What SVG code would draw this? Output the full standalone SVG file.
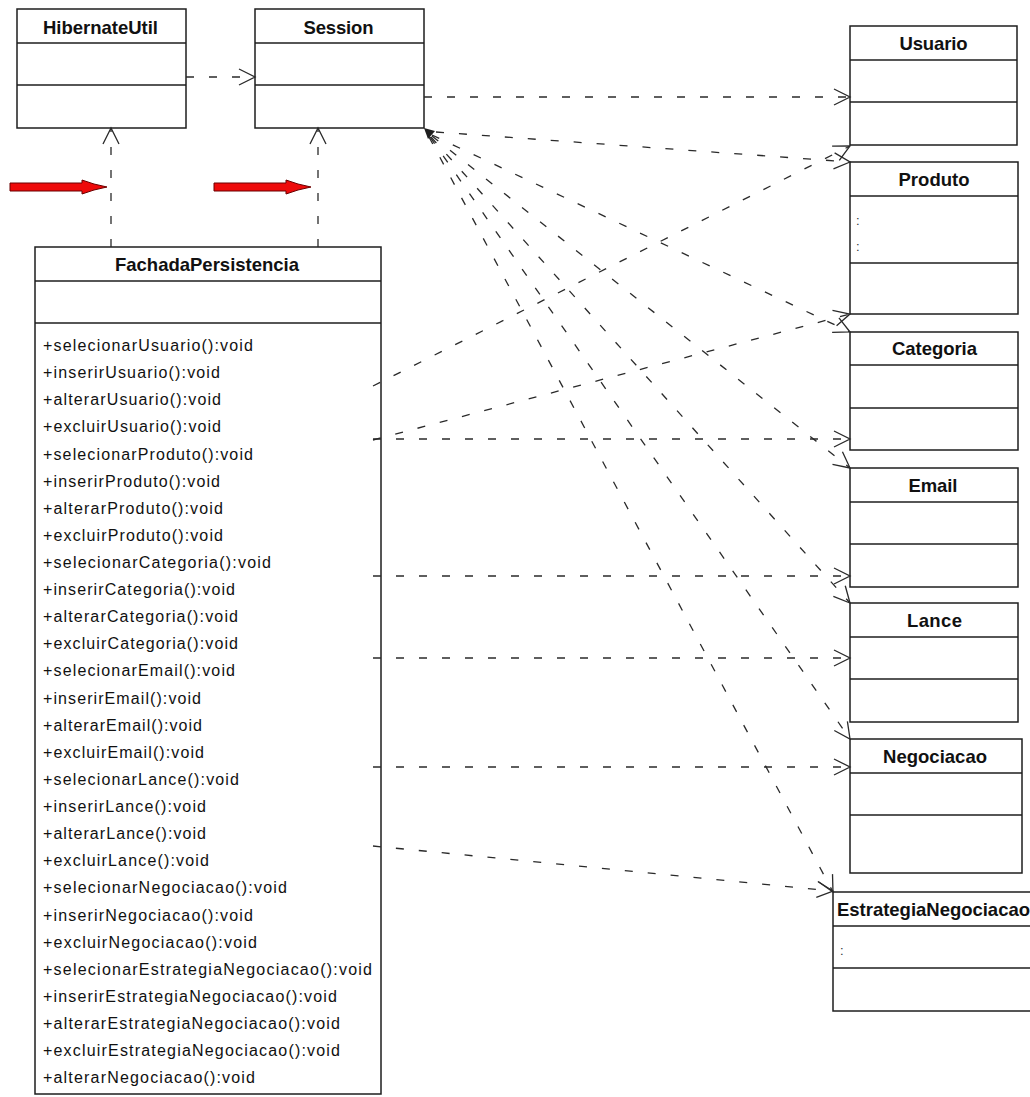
<svg xmlns="http://www.w3.org/2000/svg" width="1030" height="1097" viewBox="0 0 1030 1097">
  <style>
    .box { fill: #ffffff; stroke: #1e1e1e; stroke-width: 1.5; }
    .div { stroke: #1e1e1e; stroke-width: 1.5; }
    .title { font-family: "Liberation Sans", Arial, sans-serif; font-weight: bold; font-size: 18.5px; fill: #111; text-anchor: middle; }
    .op { font-family: "Liberation Sans", Arial, sans-serif; font-size: 16px; fill: #111; }
    .dots { font-family: "Liberation Sans", Arial, sans-serif; font-size: 13px; fill: #333; }
    .dep { fill: none; stroke: #2a2a2a; stroke-width: 1.3; stroke-dasharray: 8 15; marker-end: url(#open); }
    .hint { fill: #ee0a0a; stroke: #6a0000; stroke-width: 1; }
  </style>
  <defs>
    <marker id="open" markerUnits="userSpaceOnUse" markerWidth="22" markerHeight="22" viewBox="-19 -11 22 22" refX="0" refY="0" orient="auto">
      <path d="M-16,-8 L0,0 L-16,8" fill="none" stroke="#2a2a2a" stroke-width="1.3" stroke-dasharray="none"/>
    </marker>
  </defs>

  <rect width="1030" height="1097" fill="#ffffff"/>

  <!-- classes -->
  <g id="HibernateUtil">
    <rect class="box" x="17" y="9" width="169" height="119"/>
    <line class="div" x1="17" y1="43" x2="186" y2="43"/>
    <line class="div" x1="17" y1="85" x2="186" y2="85"/>
    <text class="title" x="100.5" y="34" textLength="115">HibernateUtil</text>
  </g>

  <g id="Session">
    <rect class="box" x="255" y="9" width="169" height="119"/>
    <line class="div" x1="255" y1="43" x2="424" y2="43"/>
    <line class="div" x1="255" y1="85" x2="424" y2="85"/>
    <text class="title" x="338.5" y="34" textLength="70">Session</text>
  </g>

  <g id="FachadaPersistencia">
    <rect class="box" x="35" y="247" width="346" height="847"/>
    <line class="div" x1="35" y1="281" x2="381" y2="281"/>
    <line class="div" x1="35" y1="323" x2="381" y2="323"/>
    <text class="title" x="207" y="271" textLength="184">FachadaPersistencia</text>
    <text class="op" x="43" y="351" textLength="210">+selecionarUsuario():void</text>
    <text class="op" x="43" y="378.1" textLength="177">+inserirUsuario():void</text>
    <text class="op" x="43" y="405.2" textLength="178">+alterarUsuario():void</text>
    <text class="op" x="43" y="432.4" textLength="178">+excluirUsuario():void</text>
    <text class="op" x="43" y="459.5" textLength="210">+selecionarProduto():void</text>
    <text class="op" x="43" y="486.6" textLength="177">+inserirProduto():void</text>
    <text class="op" x="43" y="513.7" textLength="180">+alterarProduto():void</text>
    <text class="op" x="43" y="540.8" textLength="180">+excluirProduto():void</text>
    <text class="op" x="43" y="568" textLength="228">+selecionarCategoria():void</text>
    <text class="op" x="43" y="595.1" textLength="192">+inserirCategoria():void</text>
    <text class="op" x="43" y="622.2" textLength="195">+alterarCategoria():void</text>
    <text class="op" x="43" y="649.3" textLength="195">+excluirCategoria():void</text>
    <text class="op" x="43" y="676.4" textLength="192">+selecionarEmail():void</text>
    <text class="op" x="43" y="703.6" textLength="158">+inserirEmail():void</text>
    <text class="op" x="43" y="730.7" textLength="159">+alterarEmail():void</text>
    <text class="op" x="43" y="757.8" textLength="161">+excluirEmail():void</text>
    <text class="op" x="43" y="784.9" textLength="196">+selecionarLance():void</text>
    <text class="op" x="43" y="812" textLength="163">+inserirLance():void</text>
    <text class="op" x="43" y="839.2" textLength="163">+alterarLance():void</text>
    <text class="op" x="43" y="866.3" textLength="166">+excluirLance():void</text>
    <text class="op" x="43" y="893.4" textLength="244">+selecionarNegociacao():void</text>
    <text class="op" x="43" y="920.5" textLength="210">+inserirNegociacao():void</text>
    <text class="op" x="43" y="947.6" textLength="214">+excluirNegociacao():void</text>
    <text class="op" x="43" y="974.8" textLength="329">+selecionarEstrategiaNegociacao():void</text>
    <text class="op" x="43" y="1001.9" textLength="294">+inserirEstrategiaNegociacao():void</text>
    <text class="op" x="43" y="1029" textLength="297">+alterarEstrategiaNegociacao():void</text>
    <text class="op" x="43" y="1056.1" textLength="297">+excluirEstrategiaNegociacao():void</text>
    <text class="op" x="43" y="1083.2" textLength="212">+alterarNegociacao():void</text>
  </g>

  <g id="Usuario">
    <rect class="box" x="850" y="26" width="167" height="119"/>
    <line class="div" x1="850" y1="60" x2="1017" y2="60"/>
    <line class="div" x1="850" y1="102" x2="1017" y2="102"/>
    <text class="title" x="933.5" y="49.5" textLength="68">Usuario</text>
  </g>

  <g id="Produto">
    <rect class="box" x="850" y="162" width="168" height="152"/>
    <line class="div" x1="850" y1="196" x2="1018" y2="196"/>
    <line class="div" x1="850" y1="263" x2="1018" y2="263"/>
    <text class="title" x="934" y="185.5" textLength="71">Produto</text>
    <text class="dots" x="856" y="225">:</text>
    <text class="dots" x="856" y="251">:</text>
  </g>

  <g id="Categoria">
    <rect class="box" x="850" y="332" width="168" height="118"/>
    <line class="div" x1="850" y1="365" x2="1018" y2="365"/>
    <line class="div" x1="850" y1="408" x2="1018" y2="408"/>
    <text class="title" x="934.5" y="355" textLength="85">Categoria</text>
  </g>

  <g id="Email">
    <rect class="box" x="850" y="468" width="168" height="119"/>
    <line class="div" x1="850" y1="502" x2="1018" y2="502"/>
    <line class="div" x1="850" y1="544" x2="1018" y2="544"/>
    <text class="title" x="933" y="491.5" textLength="49">Email</text>
  </g>

  <g id="Lance">
    <rect class="box" x="850" y="603" width="168" height="119"/>
    <line class="div" x1="850" y1="637" x2="1018" y2="637"/>
    <line class="div" x1="850" y1="679" x2="1018" y2="679"/>
    <text class="title" x="934.5" y="626.5" textLength="55">Lance</text>
  </g>

  <g id="Negociacao">
    <rect class="box" x="850" y="739" width="172" height="134"/>
    <line class="div" x1="850" y1="773" x2="1022" y2="773"/>
    <line class="div" x1="850" y1="815" x2="1022" y2="815"/>
    <text class="title" x="935" y="762.5" textLength="104">Negociacao</text>
  </g>

  <g id="EstrategiaNegociacao">
    <rect class="box" x="833" y="892" width="210" height="119"/>
    <line class="div" x1="833" y1="926" x2="1043" y2="926"/>
    <line class="div" x1="833" y1="968" x2="1043" y2="968"/>
    <text class="title" x="837" y="915.5" style="text-anchor:start" textLength="193">EstrategiaNegociacao</text>
    <text class="dots" x="840" y="955">:</text>
  </g>

  <!-- dependencies -->
  <g id="connectors">
    <line class="dep" x1="186" y1="77" x2="255" y2="77"/>
    <line class="dep" x1="111" y1="247" x2="111" y2="128"/>
    <line class="dep" x1="318" y1="247" x2="318" y2="128"/>

    <line class="dep" x1="424" y1="97" x2="850" y2="97"/>
    <line class="dep" x1="436" y1="132" x2="850" y2="162"/>
    <line class="dep" x1="432" y1="135" x2="850" y2="332"/>
    <line class="dep" x1="432" y1="136" x2="850" y2="468"/>
    <line class="dep" x1="431" y1="137" x2="850" y2="603"/>
    <line class="dep" x1="430" y1="137" x2="850" y2="739"/>
    <line class="dep" x1="429" y1="137" x2="833" y2="892"/>
    <polygon points="424,128 435,131 428,139" fill="#1e1e1e"/>

    <line class="dep" x1="373" y1="386" x2="850" y2="146"/>
    <line class="dep" x1="373" y1="440" x2="850" y2="314"/>
    <line class="dep" x1="373" y1="439" x2="850" y2="439"/>
    <line class="dep" x1="373" y1="576" x2="850" y2="576"/>
    <line class="dep" x1="373" y1="658" x2="850" y2="658"/>
    <line class="dep" x1="373" y1="767" x2="850" y2="767"/>
    <line class="dep" x1="373" y1="846" x2="833" y2="891"/>
  </g>

  <!-- red pointer arrows -->
  <g id="pointers">
    <polygon class="hint" points="10,183 82,183 82,180 94,184 107,187 94,190 82,194 82,191 10,191"/>
    <polygon class="hint" points="214,183 286,183 286,180 298,184 311,187 298,190 286,194 286,191 214,191"/>
  </g>
</svg>
